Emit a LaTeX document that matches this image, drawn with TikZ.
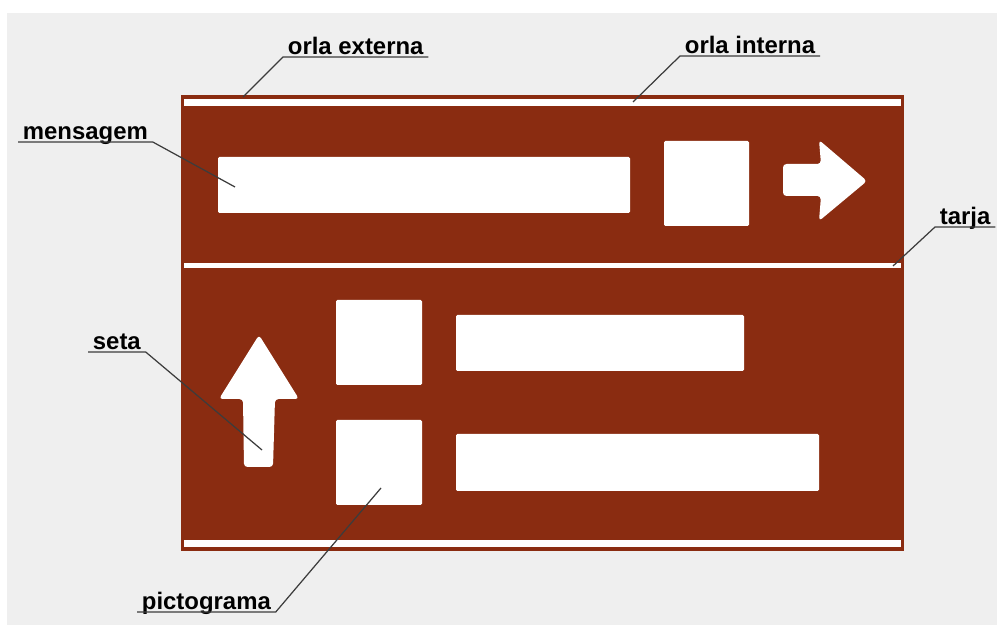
\documentclass[tikz,border=0pt]{standalone}
\usepackage{fontspec}
\setmainfont{Liberation Sans}
\definecolor{placa}{RGB}{138,44,17}
\definecolor{fundo}{RGB}{239,239,239}
\definecolor{chamada}{RGB}{60,60,60}
\tikzset{
  rotulo/.style={font=\bfseries\fontsize{6.8}{8}\selectfont, text depth=0pt,
    inner xsep=1.2pt, inner ysep=0.6pt},
  linha/.style={draw=chamada, line width=0.35pt},
  faixa/.style={fill=white, draw=none},
  elemento/.style={fill=white, draw=none, rounded corners=0.4pt}
}
\begin{document}
\begin{tikzpicture}[x=0.01cm,y=-0.01cm]
    \useasboundingbox (0,0) rectangle (997,625);
    \fill[white] (0,0) rectangle (997,625);
    \fill[fundo] (7,13) rectangle (1003,631);
    % placa
    \fill[placa] (181,95) rectangle (904,551);
    \fill[faixa] (184,99) rectangle (901,106);
    \fill[faixa] (184,263) rectangle (901,268);
    \fill[faixa] (184,540) rectangle (901,547);
    % parte de cima
    \fill[elemento] (218,157) rectangle (630,213);
    \fill[elemento] (664,141) rectangle (749,226);
    \fill[white, rounded corners=1pt] (783,164) -- (821,164) -- (819,140) -- (867,181)
        -- (819,221) -- (821,196) -- (783,196) -- cycle;
    % parte de baixo
    \fill[white, rounded corners=1pt] (259,335) -- (299,399) -- (275,399) -- (273,467)
        -- (244,467) -- (243,399) -- (219,399) -- cycle;
    \fill[elemento] (336,300) rectangle (422,385);
    \fill[elemento] (456,315) rectangle (744,371);
    \fill[elemento] (336,420) rectangle (422,505);
    \fill[elemento] (456,434) rectangle (819,491);
    % pontos indicados
    \coordinate (pExt) at (243,97);
    \coordinate (pInt) at (633,102);
    \coordinate (pMsg) at (235,187);
    \coordinate (pTarja) at (893,266);
    \coordinate (pSeta) at (262,450);
    \coordinate (pPicto) at (381,488);
    % rotulos
    \node[rotulo, anchor=south west] (ext) at (283,57) {orla externa};
    \node[rotulo, anchor=south west] (int) at (680,56) {orla interna};
    \node[rotulo, anchor=south west] (msg) at (18,142) {mensagem};
    \node[rotulo, anchor=south west] (tarja) at (935,227) {tarja};
    \node[rotulo, anchor=south west] (seta) at (88,352) {seta};
    \node[rotulo, anchor=south west] (picto) at (137,612) {pictograma};
    \draw[linha] (ext.south east) -- (ext.south west) -- (pExt);
    \draw[linha] (int.south east) -- (int.south west) -- (pInt);
    \draw[linha] (msg.south west) -- (msg.south east) -- (pMsg);
    \draw[linha] (tarja.south east) -- (tarja.south west) -- (pTarja);
    \draw[linha] (seta.south west) -- (seta.south east) -- (pSeta);
    \draw[linha] (picto.south west) -- (picto.south east) -- (pPicto);
\end{tikzpicture}
\end{document}
